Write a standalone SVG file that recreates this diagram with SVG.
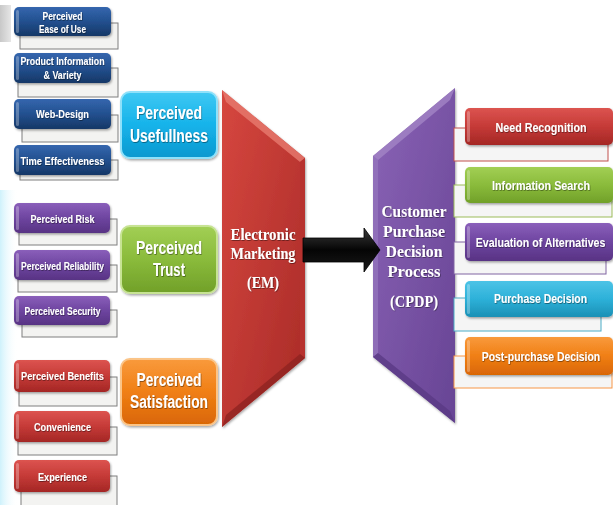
<svg xmlns="http://www.w3.org/2000/svg" width="613" height="505" viewBox="0 0 613 505">
<defs>
<linearGradient id="gBlue" x1="0" y1="0" x2="0" y2="1"><stop offset="0" stop-color="#3566ae"/><stop offset="0.5" stop-color="#22508f"/><stop offset="1" stop-color="#163766"/></linearGradient>
<linearGradient id="gPurple" x1="0" y1="0" x2="0" y2="1"><stop offset="0" stop-color="#8a5fba"/><stop offset="0.5" stop-color="#6e45a0"/><stop offset="1" stop-color="#583384"/></linearGradient>
<linearGradient id="gRed" x1="0" y1="0" x2="0" y2="1"><stop offset="0" stop-color="#dc5450"/><stop offset="0.5" stop-color="#c53a37"/><stop offset="1" stop-color="#a42725"/></linearGradient>
<linearGradient id="gCyan" x1="0" y1="0" x2="0" y2="1"><stop offset="0" stop-color="#3fc8f3"/><stop offset="0.5" stop-color="#15b3ea"/><stop offset="1" stop-color="#0b98cf"/></linearGradient>
<linearGradient id="gGreen" x1="0" y1="0" x2="0" y2="1"><stop offset="0" stop-color="#a2cf55"/><stop offset="0.5" stop-color="#8abb3b"/><stop offset="1" stop-color="#71a029"/></linearGradient>
<linearGradient id="gOrange" x1="0" y1="0" x2="0" y2="1"><stop offset="0" stop-color="#f99a3c"/><stop offset="0.5" stop-color="#f07f15"/><stop offset="1" stop-color="#d96605"/></linearGradient>
<linearGradient id="gTeal" x1="0" y1="0" x2="0" y2="1"><stop offset="0" stop-color="#4cc3e6"/><stop offset="0.5" stop-color="#2db1d9"/><stop offset="1" stop-color="#1b90b5"/></linearGradient>
<linearGradient id="gEM" x1="0" y1="0" x2="1" y2="1"><stop offset="0" stop-color="#d6473f"/><stop offset="1" stop-color="#a82a27"/></linearGradient>
<linearGradient id="gCP" x1="0" y1="0" x2="1" y2="1"><stop offset="0" stop-color="#8a63b6"/><stop offset="1" stop-color="#674494"/></linearGradient>
<linearGradient id="gArrow" x1="0" y1="0" x2="0" y2="1"><stop offset="0" stop-color="#3a3a3a"/><stop offset="0.5" stop-color="#050505"/><stop offset="1" stop-color="#1a1a1a"/></linearGradient>
<linearGradient id="gEdge" x1="0" y1="0" x2="1" y2="0"><stop offset="0" stop-color="#c9f0fb" stop-opacity="0.9"/><stop offset="1" stop-color="#ffffff" stop-opacity="0"/></linearGradient>
<linearGradient id="gGray" x1="0" y1="0" x2="1" y2="0"><stop offset="0" stop-color="#c8c8c8"/><stop offset="1" stop-color="#e6e6e6"/></linearGradient>
<filter id="sh" x="-10%" y="-10%" width="125%" height="130%"><feDropShadow dx="1" dy="1.5" stdDeviation="1.2" flood-color="#000" flood-opacity="0.35"/></filter>
<filter id="ts" x="-5%" y="-20%" width="110%" height="150%"><feDropShadow dx="0.6" dy="0.8" stdDeviation="0.4" flood-color="#000" flood-opacity="0.5"/></filter>
</defs>
<style>
.frameL{fill:#f3f3f1;stroke:#7f7f7f;stroke-width:1}
.box{filter:url(#sh)}
.hl{fill:#ffffff;fill-opacity:0.28}
.t{font-family:"Liberation Sans",Arial,sans-serif;font-weight:bold;fill:#ffffff;text-anchor:middle;filter:url(#ts)}
.s{font-size:11.5px}
.b{font-size:17.5px}
.r{font-size:13px}
.sf{font-family:"Liberation Serif","Times New Roman",serif;font-weight:bold;fill:#ffffff;text-anchor:middle;filter:url(#ts)}
.em{font-size:17px}
.cp{font-size:17px}
</style>
<rect width="613" height="505" fill="#ffffff"/>
<rect x="0" y="5" width="11" height="37" fill="url(#gGray)"/>
<rect x="0" y="190" width="18" height="315" fill="url(#gEdge)"/>

<!-- Left small factor nodes -->
<g id="ease-of-use">
<rect class="frameL" x="20" y="23" width="98" height="26"/>
<rect class="box" x="14" y="7" width="97" height="29" rx="5" fill="url(#gBlue)"/>
<rect class="hl" x="16" y="10" width="3" height="23" rx="1.5"/>
<text class="t s" x="62.5" y="20" textLength="40" lengthAdjust="spacingAndGlyphs">Perceived</text>
<text class="t s" x="62.5" y="32.5" textLength="47" lengthAdjust="spacingAndGlyphs">Ease of Use</text>
</g>
<g id="product-info">
<rect class="frameL" x="18" y="68" width="100" height="29"/>
<rect class="box" x="14" y="53" width="97" height="30" rx="5" fill="url(#gBlue)"/>
<rect class="hl" x="16" y="56" width="3" height="24" rx="1.5"/>
<text class="t s" x="62.5" y="65" textLength="84" lengthAdjust="spacingAndGlyphs">Product Information</text>
<text class="t s" x="62.5" y="78.5" textLength="38" lengthAdjust="spacingAndGlyphs">&amp; Variety</text>
</g>
<g id="web-design">
<rect class="frameL" x="22" y="115" width="96" height="27"/>
<rect class="box" x="14" y="99" width="97" height="30" rx="5" fill="url(#gBlue)"/>
<rect class="hl" x="16" y="102" width="3" height="24" rx="1.5"/>
<text class="t s" x="62.5" y="118" textLength="53" lengthAdjust="spacingAndGlyphs">Web-Design</text>
</g>
<g id="time-effectiveness">
<rect class="frameL" x="20" y="160" width="98" height="20"/>
<rect class="box" x="14" y="145" width="97" height="30" rx="5" fill="url(#gBlue)"/>
<rect class="hl" x="16" y="148" width="3" height="24" rx="1.5"/>
<text class="t s" x="62.5" y="164.5" textLength="84" lengthAdjust="spacingAndGlyphs">Time Effectiveness</text>
</g>

<g id="perceived-risk">
<rect class="frameL" x="19" y="219" width="98" height="26"/>
<rect class="box" x="14" y="203" width="96" height="30" rx="5" fill="url(#gPurple)"/>
<rect class="hl" x="16" y="206" width="3" height="24" rx="1.5"/>
<text class="t s" x="62.5" y="223" textLength="64" lengthAdjust="spacingAndGlyphs">Perceived Risk</text>
</g>
<g id="perceived-reliability">
<rect class="frameL" x="18" y="265" width="99" height="27"/>
<rect class="box" x="14" y="250" width="96" height="30" rx="5" fill="url(#gPurple)"/>
<rect class="hl" x="16" y="253" width="3" height="24" rx="1.5"/>
<text class="t s" x="62.5" y="270" textLength="83" lengthAdjust="spacingAndGlyphs">Perceived Reliability</text>
</g>
<g id="perceived-security">
<rect class="frameL" x="22" y="310" width="95" height="27"/>
<rect class="box" x="14" y="296" width="96" height="29" rx="5" fill="url(#gPurple)"/>
<rect class="hl" x="16" y="299" width="3" height="23" rx="1.5"/>
<text class="t s" x="62.5" y="315" textLength="76" lengthAdjust="spacingAndGlyphs">Perceived Security</text>
</g>

<g id="perceived-benefits">
<rect class="frameL" x="19" y="377" width="98" height="29"/>
<rect class="box" x="14" y="360" width="96" height="32" rx="5" fill="url(#gRed)"/>
<rect class="hl" x="16" y="363" width="3" height="26" rx="1.5"/>
<text class="t s" x="62.5" y="380" textLength="83" lengthAdjust="spacingAndGlyphs">Perceived Benefits</text>
</g>
<g id="convenience">
<rect class="frameL" x="18" y="427" width="99" height="28"/>
<rect class="box" x="14" y="411" width="96" height="31" rx="5" fill="url(#gRed)"/>
<rect class="hl" x="16" y="414" width="3" height="25" rx="1.5"/>
<text class="t s" x="62.5" y="431" textLength="57" lengthAdjust="spacingAndGlyphs">Convenience</text>
</g>
<g id="experience">
<rect class="frameL" x="21" y="476" width="96" height="32"/>
<rect class="box" x="14" y="460" width="96" height="32" rx="5" fill="url(#gRed)"/>
<rect class="hl" x="16" y="463" width="3" height="26" rx="1.5"/>
<text class="t s" x="62.5" y="480.5" textLength="49" lengthAdjust="spacingAndGlyphs">Experience</text>
</g>

<!-- Middle category nodes -->
<g id="perceived-usefullness">
<rect class="box" x="121" y="92" width="96" height="66" rx="9" fill="url(#gCyan)" stroke="#8fe1fa" stroke-width="2"/>
<text class="t b" x="169" y="119" textLength="66" lengthAdjust="spacingAndGlyphs">Perceived</text>
<text class="t b" x="169" y="142" textLength="78" lengthAdjust="spacingAndGlyphs">Usefullness</text>
</g>
<g id="perceived-trust">
<rect class="box" x="121" y="226" width="96" height="67" rx="9" fill="url(#gGreen)" stroke="#c7e394" stroke-width="2"/>
<text class="t b" x="169" y="254" textLength="66" lengthAdjust="spacingAndGlyphs">Perceived</text>
<text class="t b" x="169" y="276" textLength="32" lengthAdjust="spacingAndGlyphs">Trust</text>
</g>
<g id="perceived-satisfaction">
<rect class="box" x="121" y="359" width="96" height="66" rx="9" fill="url(#gOrange)" stroke="#fbc487" stroke-width="2"/>
<text class="t b" x="169" y="386" textLength="65" lengthAdjust="spacingAndGlyphs">Perceived</text>
<text class="t b" x="169" y="408" textLength="78" lengthAdjust="spacingAndGlyphs">Satisfaction</text>
</g>

<!-- Electronic Marketing -->
<g id="electronic-marketing">
<polygon class="box" points="222,90 305,158 305,358 222,427" fill="url(#gEM)"/>
<polygon points="222,90 305,158 300,162 226,102" fill="#e77a6f" fill-opacity="0.8"/>
<polygon points="300,162 305,158 305,358 300,354" fill="#b7322f"/>
<polygon points="226,415 300,354 305,358 222,427" fill="#8f2321" fill-opacity="0.8"/>
<text class="sf em" x="263" y="240" textLength="65" lengthAdjust="spacingAndGlyphs">Electronic</text>
<text class="sf em" x="263" y="259" textLength="65" lengthAdjust="spacingAndGlyphs">Marketing</text>
<text class="sf em" x="263" y="287.5" textLength="32" lengthAdjust="spacingAndGlyphs">(EM)</text>
</g>

<!-- Customer Purchase Decision Process -->
<g id="cpdp">
<polygon class="box" points="455,88 455,423 373,357 373,156" fill="url(#gCP)"/>
<polygon points="455,88 450,100 378,160 373,156" fill="#a285c6" fill-opacity="0.8"/>
<polygon points="373,156 378,160 378,353 373,357" fill="#9677bd" fill-opacity="0.7"/>
<polygon points="373,357 378,353 450,411 455,423" fill="#5a3a84" fill-opacity="0.8"/>
<text class="sf cp" x="414" y="217" textLength="65" lengthAdjust="spacingAndGlyphs">Customer</text>
<text class="sf cp" x="414" y="237" textLength="62" lengthAdjust="spacingAndGlyphs">Purchase</text>
<text class="sf cp" x="414" y="257" textLength="57" lengthAdjust="spacingAndGlyphs">Decision</text>
<text class="sf cp" x="414" y="277" textLength="53" lengthAdjust="spacingAndGlyphs">Process</text>
<text class="sf cp" x="414" y="306.5" textLength="48" lengthAdjust="spacingAndGlyphs">(CPDP)</text>
</g>

<!-- Right stage nodes -->
<g id="need-recognition">
<rect x="454" y="128" width="154" height="33" fill="#f5f5f5" stroke="#c0504d" stroke-width="1"/>
<rect class="box" x="465" y="108" width="148" height="37" rx="5" fill="url(#gRed)"/>
<rect class="hl" x="467" y="111" width="3" height="31" rx="1.5"/>
<text class="t r" x="541" y="131.5" textLength="91" lengthAdjust="spacingAndGlyphs">Need Recognition</text>
</g>
<g id="information-search">
<rect x="454" y="185" width="158" height="32" fill="#f5f5f5" stroke="#9bbb59" stroke-width="1"/>
<rect class="box" x="465" y="167" width="148" height="36" rx="5" fill="url(#gGreen)"/>
<rect class="hl" x="467" y="170" width="3" height="30" rx="1.5"/>
<text class="t r" x="541" y="189.5" textLength="98" lengthAdjust="spacingAndGlyphs">Information Search</text>
</g>
<g id="evaluation-of-alternatives">
<rect x="454" y="242" width="152" height="32" fill="#f5f5f5" stroke="#8064a2" stroke-width="1"/>
<rect class="box" x="465" y="223" width="148" height="38" rx="5" fill="url(#gPurple)"/>
<rect class="hl" x="467" y="226" width="3" height="32" rx="1.5"/>
<text class="t r" x="0" y="0" transform="translate(540.5,247) scale(0.815,1)">Evaluation of Alternatives</text>
</g>
<g id="purchase-decision">
<rect x="454" y="298" width="147" height="33" fill="#f5f5f5" stroke="#4bacc6" stroke-width="1"/>
<rect class="box" x="465" y="281" width="148" height="36" rx="5" fill="url(#gTeal)"/>
<rect class="hl" x="467" y="284" width="3" height="30" rx="1.5"/>
<text class="t r" x="540.5" y="303" textLength="93" lengthAdjust="spacingAndGlyphs">Purchase Decision</text>
</g>
<g id="post-purchase-decision">
<rect x="454" y="356" width="158" height="32" fill="#f5f5f5" stroke="#f79646" stroke-width="1"/>
<rect class="box" x="465" y="337" width="148" height="38" rx="5" fill="url(#gOrange)"/>
<rect class="hl" x="467" y="340" width="3" height="32" rx="1.5"/>
<text class="t r" x="0" y="0" transform="translate(541,361) scale(0.8,1)">Post-purchase Decision</text>
</g>

<!-- Connectors -->
<g id="connectors">
<polygon points="303,238 364,238 364,228 380,250 364,272 364,262 303,262" fill="url(#gArrow)" stroke="#000" stroke-width="0.8"/>
</g>
</svg>
